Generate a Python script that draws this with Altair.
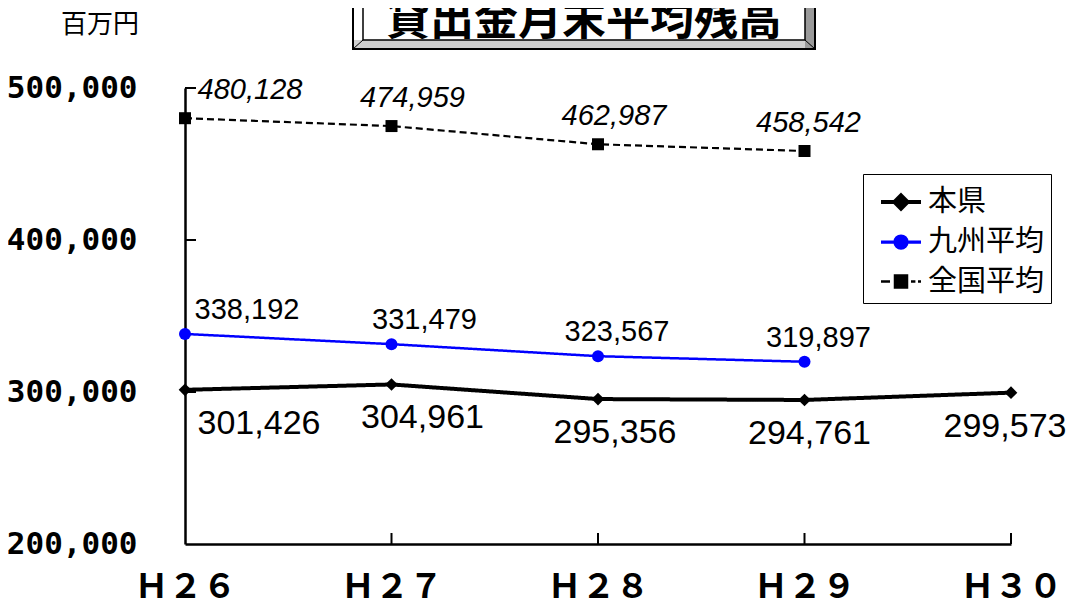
import altair as alt
import pandas as pd

# ---- data ----
years = ["Ｈ２６", "Ｈ２７", "Ｈ２８", "Ｈ２９", "Ｈ３０"]
series_names = ["本県", "九州平均", "全国平均"]
honken = [301426, 304961, 295356, 294761, 299573]
kyushu = [338192, 331479, 323567, 319897]
zenkoku = [480128, 474959, 462987, 458542]
y_ticks = [200000, 300000, 400000, 500000]

rows = []
for name, vals in zip(series_names, [honken, kyushu, zenkoku]):
    for i, v in enumerate(vals):
        rows.append({"year": years[i], "series": name, "value": v, "idx": i})
df = pd.DataFrame(rows)

# ---- styles ----
W, H = 826, 456
FONT_CJK = "Noto Sans CJK JP"
colors = {"本県": "#000000", "九州平均": "#0000ff", "全国平均": "#000000"}
line_w = {"本県": 4, "九州平均": 2.5, "全国平均": 2.2}
dashes = {"本県": [1, 0], "九州平均": [1, 0], "全国平均": [7, 4]}
shapes = {"本県": "diamond", "九州平均": "circle", "全国平均": "square"}
sizes = {"本県": 160, "九州平均": 144, "全国平均": 144}
label_style = {
    "本県": dict(dx=[74, 31, 17, 5, -6], dy=34, size=34, italic=False),
    "九州平均": dict(dx=[62, 33, 19, 14], dy=-24, size=29, italic=False),
    "全国平均": dict(dx=[65, 21, 16, 4], dy=-28, size=29, italic=True),
}
legend_paths = [
    "M-1,0L1,0M0,-0.33L0.33,0L0,0.33L-0.33,0Z",
    "M-1,0L1,0M-0.3,0A0.3,0.3 0 1,1 0.3,0A0.3,0.3 0 1,1 -0.3,0Z",
    "M-1,0L-0.55,0M-0.3,-0.3L0.3,-0.3L0.3,0.3L-0.3,0.3ZM0.5,0L0.72,0M0.85,0L1,0",
]

x_scale = alt.Scale(type="point", domain=years, padding=0)
y_scale = alt.Scale(domain=[200000, 500000], nice=False, zero=False)
x_enc = alt.X("year:N", scale=x_scale, axis=alt.Axis(
    title=None, ticks=False, labelAngle=0, labelFont=FONT_CJK, labelFontSize=34,
    labelFontWeight="bold", labelColor="black", labelPadding=26,
    domainColor="black", domainWidth=2.5, grid=False))
y_enc = alt.Y("value:Q", scale=y_scale, axis=alt.Axis(
    title=None, values=y_ticks, ticks=False, grid=False,
    labelExpr="format(datum.value, ',d')",
    labelFont="DejaVu Sans Mono, Liberation Mono, monospace",
    labelFontSize=31, labelFontWeight="bold", labelColor="black", labelPadding=48,
    domainColor="black", domainWidth=2.5))

layers = []

# tick marks (inside)
ytick_df = pd.DataFrame({"value": y_ticks[1:]})
layers.append(alt.Chart(ytick_df).mark_rule(color="black", strokeWidth=2).encode(
    y=y_enc, x=alt.value(0), x2=alt.value(11)))
xtick_df = pd.DataFrame({"year": years[1:]})
layers.append(alt.Chart(xtick_df).mark_rule(color="black", strokeWidth=2).encode(
    x=x_enc, y=alt.value(H), y2=alt.value(H - 11)))

# lines and markers
for name in series_names:
    base = alt.Chart(df).transform_filter(alt.datum.series == name)
    layers.append(base.mark_line(color=colors[name], strokeWidth=line_w[name],
                                 strokeDash=dashes[name]).encode(x=x_enc, y=y_enc))
    layers.append(base.mark_point(shape=shapes[name], filled=True, opacity=1,
                                  color=colors[name], size=sizes[name]).encode(x=x_enc, y=y_enc))

# data labels
for name in series_names:
    st = label_style[name]
    for i, dxv in enumerate(st["dx"]):
        layers.append(
            alt.Chart(df)
            .transform_filter((alt.datum.series == name) & (alt.datum.idx == i))
            .mark_text(font="Liberation Sans, Arial, sans-serif", fontSize=st["size"],
                       fontStyle="italic" if st["italic"] else "normal",
                       color="black", dx=dxv, dy=st["dy"], baseline="middle", align="center")
            .encode(x=x_enc, y=y_enc, text=alt.Text("value:Q", format=","))
        )

# legend (drawn from scales only)
leg = alt.Legend(title=None, orient="none", legendX=678, legendY=86,
                 labelFont=FONT_CJK, labelFontSize=29, labelColor="black",
                 labelOffset=5, symbolSize=1600, symbolOffset=10,
                 padding=6, rowPadding=3, strokeColor="black", fillColor="white",
                 symbolOpacity=1)
dom = series_names
layers.append(
    alt.Chart(df).transform_filter("false").mark_point(filled=True).encode(
        x=x_enc, y=y_enc,
        color=alt.Color("series:N", scale=alt.Scale(domain=dom, range=[colors[n] for n in dom]), legend=leg),
        stroke=alt.Stroke("series:N", scale=alt.Scale(domain=dom, range=[colors[n] for n in dom]), legend=leg),
        shape=alt.Shape("series:N", scale=alt.Scale(domain=dom, range=legend_paths), legend=leg),
        strokeWidth=alt.StrokeWidth("series:N", scale=alt.Scale(domain=dom, range=[4, 2.5, 2.2]), legend=leg),
    )
)

# title box and unit label (decoration)
one = pd.DataFrame({"a": [0]})
deco = alt.Chart(one)
layers += [
    deco.mark_rect(fill="white", stroke="black", strokeWidth=2).encode(
        x=alt.value(168), x2=alt.value(630), y=alt.value(-100), y2=alt.value(-39)),
    deco.mark_rect(fill="#cfcfcf").encode(
        x=alt.value(169), x2=alt.value(629), y=alt.value(-48), y2=alt.value(-40)),
    deco.mark_rect(fill="#9a9a9a").encode(
        x=alt.value(620), x2=alt.value(629), y=alt.value(-100), y2=alt.value(-40)),
    deco.mark_rect(fill="white", stroke="black", strokeWidth=1.5).encode(
        x=alt.value(178), x2=alt.value(620), y=alt.value(-100), y2=alt.value(-48)),
    deco.mark_rule(color="black", strokeWidth=1).encode(
        x=alt.value(168), x2=alt.value(178), y=alt.value(-39), y2=alt.value(-48)),
    deco.mark_rule(color="black", strokeWidth=1).encode(
        x=alt.value(630), x2=alt.value(620), y=alt.value(-39), y2=alt.value(-48)),
    deco.mark_text(font=FONT_CJK, fontSize=44, fontWeight="bold", color="black",
                   align="center", baseline="alphabetic").encode(
        x=alt.value(399), y=alt.value(-53), text=alt.value("貸出金月末平均残高")),
    deco.mark_text(font=FONT_CJK, fontSize=26, color="black",
                   align="center", baseline="middle").encode(
        x=alt.value(-85), y=alt.value(-63), text=alt.value("百万円")),
]

chart = alt.layer(*layers).properties(
    width=W, height=H,
    autosize=alt.AutoSizeParams(type="none"),
    padding={"left": 177, "top": 80, "right": 55, "bottom": 63},
    background="white",
).configure_view(stroke=None)

chart.save("out.html", embed_options={"renderer": "svg", "actions": False})
